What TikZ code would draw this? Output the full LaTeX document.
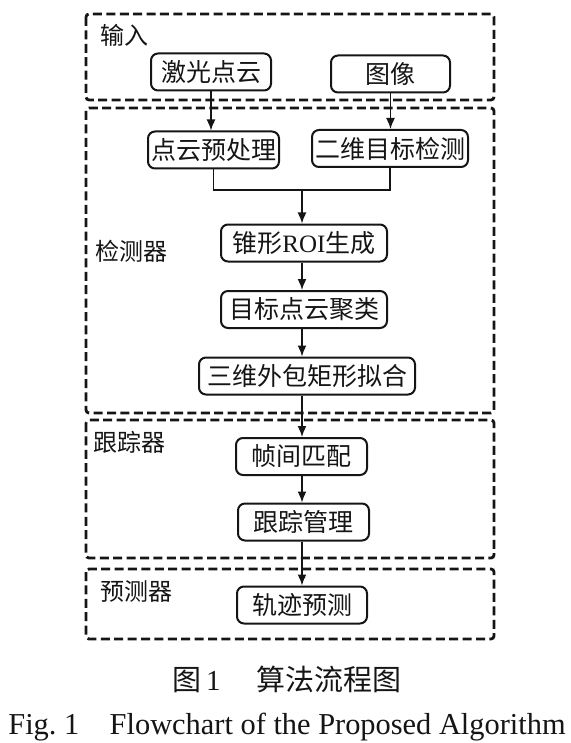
\documentclass[tikz,border=0pt]{standalone}
\usepackage{fontspec}
\setmainfont{Liberation Serif}
\newfontfamily\cjk{Noto Sans CJK SC}
\usetikzlibrary{arrows.meta,positioning}
\definecolor{Ink}{HTML}{151515}
\tikzset{
  stage/.style={draw=Ink, line width=1.4pt, dash pattern=on 4.5pt off 2.2pt, rounded corners=1.5pt},
  proc/.style={draw=Ink, line width=1pt, rounded corners=3.5pt, minimum height=18.5pt,
    inner sep=0pt, text=Ink, font=\cjk\fontsize{12.5}{14}\selectfont},
  tag/.style={anchor=west, inner sep=0pt, text=Ink, font=\cjk\fontsize{12}{14}\selectfont},
  link/.style={draw=Ink, line width=0.8pt},
  flow/.style={link, -{Latex[length=5.5pt,width=4.5pt]}},
}

\begin{document}
\begin{tikzpicture}[x=0.5pt, y=-0.5pt]
        \useasboundingbox (0,0) rectangle (571,743);
        \fill[white] (0,0) rectangle (571,743);
        % stages
        \draw[stage] (86,14) rectangle (494,100);
        \draw[stage] (86,108) rectangle (494,413);
        \draw[stage] (86,420) rectangle (494,558);
        \draw[stage] (86,569) rectangle (494,639);
        \node[tag] (inTag) at (100,35) {输入};
        \node[tag] (detTag) at (95,251) {检测器};
        \node[tag] (trkTag) at (93,442) {跟踪器};
        \node[tag] (preTag) at (100,592) {预测器};
        % steps
        \node[proc, minimum width=60pt] (laser) at (211,72) {激光点云};
        \node[proc, minimum width=59.5pt] (image) at (390.5,74) {图像};
        \node[proc, minimum width=65.5pt] (prep) at (213.5,150) {点云预处理};
        \node[proc, minimum width=78pt] (det2d) at (390,148.5) {二维目标检测};
        \node[proc, minimum width=83pt] (roi) at (304,243) {锥形{\rmfamily ROI}生成};
        \node[proc, minimum width=83pt] (cluster) at (304,309.5) {目标点云聚类};
        \node[proc, minimum width=108pt] (fit) at (307,376) {三维外包矩形拟合};
        \node[proc, minimum width=65.5pt] (match) at (301.5,456.5) {帧间匹配};
        \node[proc, minimum width=65.5pt] (manage) at (303.5,522) {跟踪管理};
        \node[proc, minimum width=65pt] (track) at (302,605) {轨迹预测};
        \coordinate (axis) at (302,0);
        \coordinate (merge) at (302,190);
        % connectors
        \draw[flow] (laser.south) -- (laser.south |- prep.north);
        \draw[flow] (image.south) -- (image.south |- det2d.north);
        \draw[link] (prep.south) |- (det2d.south |- merge) -- (det2d.south);
        \draw[flow] (merge) -- (roi.north -| axis);
        \draw[flow] (roi.south -| axis) -- (cluster.north -| axis);
        \draw[flow] (cluster.south -| axis) -- (fit.north -| axis);
        \draw[flow] (fit.south -| axis) -- (match.north -| axis);
        \draw[flow] (match.south -| axis) -- (manage.north -| axis);
        \draw[flow] (manage.south -| axis) -- (track.north -| axis);
        % caption
        \node[text=Ink, font=\fontsize{14.5}{16}\selectfont] (capCn) at (287,679) {{\cjk 图}\,1\quad\ {\cjk 算法流程图}};
        \node[text=Ink, font=\fontsize{15.2}{17}\selectfont] (capEn) at (287,727) {Fig.\ 1\quad Flowchart of the Proposed Algorithm};
      \end{tikzpicture}
\end{document}
